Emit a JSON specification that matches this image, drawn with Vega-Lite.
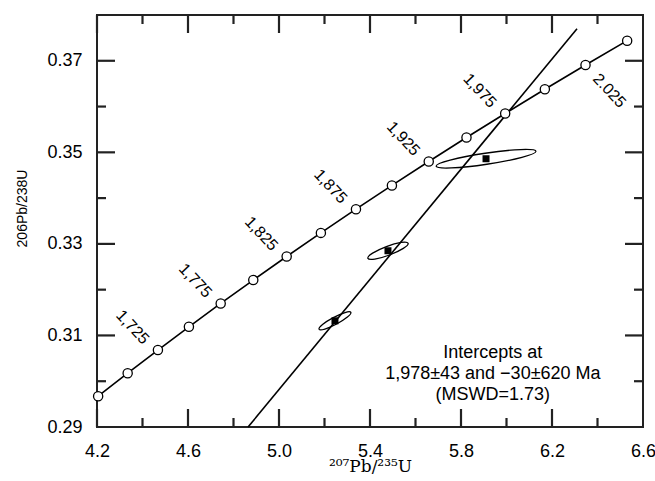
{
  "$schema": "https://vega.github.io/schema/vega-lite/v6.json",
  "width": 546,
  "height": 412,
  "autosize": {"type": "none"},
  "padding": {"left": 97, "top": 15, "right": 12, "bottom": 54},
  "background": "white",
  "config": {
    "view": {"stroke": "#222222", "strokeWidth": 2},
    "axis": {
      "grid": false,
      "ticks": false,
      "domain": false,
      "labelFont": "Liberation Sans",
      "labelFontSize": 18,
      "labelColor": "black",
      "labelOverlap": false,
      "labelFlush": false,
      "labelPadding": 15,
      "titleColor": "black",
      "titleFontWeight": "normal"
    }
  },
  "datasets": {
    "concordia": [
      {"age": 1675, "lab": "", "r75": 4.205, "r68": 0.29672},
      {"age": 1700, "lab": "", "r75": 4.3348, "r68": 0.30175},
      {"age": 1725, "lab": "1,725", "r75": 4.4678, "r68": 0.30681},
      {"age": 1750, "lab": "", "r75": 4.604, "r68": 0.31189},
      {"age": 1775, "lab": "1,775", "r75": 4.7437, "r68": 0.31699},
      {"age": 1800, "lab": "", "r75": 4.8869, "r68": 0.3221},
      {"age": 1825, "lab": "1,825", "r75": 5.0337, "r68": 0.32724},
      {"age": 1850, "lab": "", "r75": 5.1841, "r68": 0.3324},
      {"age": 1875, "lab": "1,875", "r75": 5.3383, "r68": 0.33758},
      {"age": 1900, "lab": "", "r75": 5.4963, "r68": 0.34277},
      {"age": 1925, "lab": "1,925", "r75": 5.6582, "r68": 0.34799},
      {"age": 1950, "lab": "", "r75": 5.8241, "r68": 0.35323},
      {"age": 1975, "lab": "1,975", "r75": 5.9942, "r68": 0.35849},
      {"age": 2000, "lab": "", "r75": 6.1686, "r68": 0.36377},
      {"age": 2025, "lab": "2.025", "r75": 6.3473, "r68": 0.36907},
      {"age": 2050, "lab": "", "r75": 6.5304, "r68": 0.37439}
    ],
    "discordia": [
      {"r75": 4.864, "r68": 0.29},
      {"r75": 6.31, "r68": 0.377}
    ],
    "samples": [
      {"id": 1, "r75": 5.246, "r68": 0.3132},
      {"id": 2, "r75": 5.479, "r68": 0.3285},
      {"id": 3, "r75": 5.91, "r68": 0.3486}
    ],
    "note": [
      {"r75": 5.94, "r68": 0.3062}
    ],
    "xticks": [
      {"v": 4.2, "major": true}, {"v": 4.4, "major": false}, {"v": 4.6, "major": true},
      {"v": 4.8, "major": false}, {"v": 5.0, "major": true}, {"v": 5.2, "major": false},
      {"v": 5.4, "major": true}, {"v": 5.6, "major": false}, {"v": 5.8, "major": true},
      {"v": 6.0, "major": false}, {"v": 6.2, "major": true}, {"v": 6.4, "major": false}
    ],
    "yticks": [
      {"v": 0.30, "major": false}, {"v": 0.31, "major": true}, {"v": 0.32, "major": false},
      {"v": 0.33, "major": true}, {"v": 0.34, "major": false}, {"v": 0.35, "major": true},
      {"v": 0.36, "major": false}, {"v": 0.37, "major": true}
    ]
  },
  "layer": [
    {
      "data": {"name": "discordia"},
      "mark": {"type": "line", "color": "black", "strokeWidth": 1.6},
      "encoding": {
        "x": {
          "field": "r75", "type": "quantitative",
          "scale": {"domain": [4.2, 6.6], "nice": false, "zero": false},
          "axis": {
            "orient": "bottom",
            "values": [4.2, 4.6, 5.0, 5.4, 5.8, 6.2, 6.6],
            "format": ".1f",
            "title": "²⁰⁷Pb/²³⁵U",
            "titleFont": "DejaVu Serif",
            "titleFontSize": 17,
            "titleX": 273,
            "titleY": 39,
            "titleAlign": "center",
            "titleBaseline": "middle"
          }
        },
        "y": {
          "field": "r68", "type": "quantitative",
          "scale": {"domain": [0.29, 0.38], "nice": false, "zero": false},
          "axis": {
            "orient": "left",
            "values": [0.29, 0.31, 0.33, 0.35, 0.37],
            "format": ".2f",
            "title": "206Pb/238U",
            "titleFont": "Liberation Sans",
            "titleFontSize": 14,
            "titleX": -75,
            "titleY": 193,
            "titleAngle": -90,
            "titleAlign": "center",
            "titleBaseline": "middle"
          }
        }
      }
    },
    {
      "data": {"name": "xticks"},
      "transform": [{"filter": "datum.major"}],
      "mark": {"type": "rule", "color": "#222222", "strokeWidth": 2.2},
      "encoding": {
        "x": {"field": "v", "type": "quantitative"},
        "y": {"datum": 0.29},
        "y2": {"datum": 0.29393}
      }
    },
    {
      "data": {"name": "xticks"},
      "transform": [{"filter": "!datum.major"}],
      "mark": {"type": "rule", "color": "#222222", "strokeWidth": 2.2},
      "encoding": {
        "x": {"field": "v", "type": "quantitative"},
        "y": {"datum": 0.29},
        "y2": {"datum": 0.29197}
      }
    },
    {
      "data": {"name": "xticks"},
      "transform": [{"filter": "datum.major"}],
      "mark": {"type": "rule", "color": "#222222", "strokeWidth": 2.2},
      "encoding": {
        "x": {"field": "v", "type": "quantitative"},
        "y": {"datum": 0.38},
        "y2": {"datum": 0.37607}
      }
    },
    {
      "data": {"name": "xticks"},
      "transform": [{"filter": "!datum.major"}],
      "mark": {"type": "rule", "color": "#222222", "strokeWidth": 2.2},
      "encoding": {
        "x": {"field": "v", "type": "quantitative"},
        "y": {"datum": 0.38},
        "y2": {"datum": 0.37803}
      }
    },
    {
      "data": {"name": "yticks"},
      "transform": [{"filter": "datum.major"}],
      "mark": {"type": "rule", "color": "#222222", "strokeWidth": 2.2},
      "encoding": {
        "y": {"field": "v", "type": "quantitative"},
        "x": {"datum": 4.2},
        "x2": {"datum": 4.2791}
      }
    },
    {
      "data": {"name": "yticks"},
      "transform": [{"filter": "!datum.major"}],
      "mark": {"type": "rule", "color": "#222222", "strokeWidth": 2.2},
      "encoding": {
        "y": {"field": "v", "type": "quantitative"},
        "x": {"datum": 4.2},
        "x2": {"datum": 4.2396}
      }
    },
    {
      "data": {"name": "yticks"},
      "transform": [{"filter": "datum.major"}],
      "mark": {"type": "rule", "color": "#222222", "strokeWidth": 2.2},
      "encoding": {
        "y": {"field": "v", "type": "quantitative"},
        "x": {"datum": 6.6},
        "x2": {"datum": 6.5209}
      }
    },
    {
      "data": {"name": "yticks"},
      "transform": [{"filter": "!datum.major"}],
      "mark": {"type": "rule", "color": "#222222", "strokeWidth": 2.2},
      "encoding": {
        "y": {"field": "v", "type": "quantitative"},
        "x": {"datum": 6.6},
        "x2": {"datum": 6.5604}
      }
    },
    {
      "data": {"name": "samples"},
      "transform": [{"filter": "datum.id == 1"}],
      "mark": {"type": "point", "shape": "M-1,0A1,0.2,0,1,1,1,0A1,0.2,0,1,1,-1,0Z", "size": 1296, "angle": -28, "filled": false, "color": "black", "strokeWidth": 1.3, "opacity": 1},
      "encoding": {
        "x": {"field": "r75", "type": "quantitative"},
        "y": {"field": "r68", "type": "quantitative"}
      }
    },
    {
      "data": {"name": "samples"},
      "transform": [{"filter": "datum.id == 2"}],
      "mark": {"type": "point", "shape": "M-1,0A1,0.21,0,1,1,1,0A1,0.21,0,1,1,-1,0Z", "size": 1849, "angle": -20.5, "filled": false, "color": "black", "strokeWidth": 1.3, "opacity": 1},
      "encoding": {
        "x": {"field": "r75", "type": "quantitative"},
        "y": {"field": "r68", "type": "quantitative"}
      }
    },
    {
      "data": {"name": "samples"},
      "transform": [{"filter": "datum.id == 3"}],
      "mark": {"type": "point", "shape": "M-1,0A1,0.11,0,1,1,1,0A1,0.11,0,1,1,-1,0Z", "size": 10201, "angle": -8.5, "filled": false, "color": "black", "strokeWidth": 1.3, "opacity": 1},
      "encoding": {
        "x": {"field": "r75", "type": "quantitative"},
        "y": {"field": "r68", "type": "quantitative"}
      }
    },
    {
      "data": {"name": "samples"},
      "mark": {"type": "point", "shape": "square", "size": 49, "filled": true, "color": "black", "opacity": 1},
      "encoding": {
        "x": {"field": "r75", "type": "quantitative"},
        "y": {"field": "r68", "type": "quantitative"}
      }
    },
    {
      "data": {"name": "concordia"},
      "mark": {"type": "line", "color": "black", "strokeWidth": 1.6},
      "encoding": {
        "x": {"field": "r75", "type": "quantitative"},
        "y": {"field": "r68", "type": "quantitative"},
        "order": {"field": "age"}
      }
    },
    {
      "data": {"name": "concordia"},
      "mark": {"type": "point", "shape": "circle", "size": 85, "filled": true, "fill": "white", "stroke": "black", "strokeWidth": 1.3, "opacity": 1},
      "encoding": {
        "x": {"field": "r75", "type": "quantitative"},
        "y": {"field": "r68", "type": "quantitative"}
      }
    },
    {
      "data": {"name": "concordia"},
      "transform": [{"filter": "datum.lab != '' && datum.age < 2000"}],
      "mark": {"type": "text", "angle": 47, "dx": -34, "dy": 3, "align": "center", "baseline": "middle", "font": "Liberation Sans", "fontSize": 16, "color": "black"},
      "encoding": {
        "x": {"field": "r75", "type": "quantitative"},
        "y": {"field": "r68", "type": "quantitative"},
        "text": {"field": "lab"}
      }
    },
    {
      "data": {"name": "concordia"},
      "transform": [{"filter": "datum.age == 2025"}],
      "mark": {"type": "text", "angle": 47, "dx": 35, "dy": 0, "align": "center", "baseline": "middle", "font": "Liberation Sans", "fontSize": 16, "color": "black"},
      "encoding": {
        "x": {"field": "r75", "type": "quantitative"},
        "y": {"field": "r68", "type": "quantitative"},
        "text": {"field": "lab"}
      }
    },
    {
      "data": {"name": "note"},
      "mark": {"type": "text", "text": ["Intercepts at", "1,978±43 and −30±620 Ma", "(MSWD=1.73)"], "lineHeight": 21, "align": "center", "baseline": "middle", "font": "Liberation Sans", "fontSize": 18, "color": "black"},
      "encoding": {
        "x": {"field": "r75", "type": "quantitative"},
        "y": {"field": "r68", "type": "quantitative"}
      }
    }
  ]
}
